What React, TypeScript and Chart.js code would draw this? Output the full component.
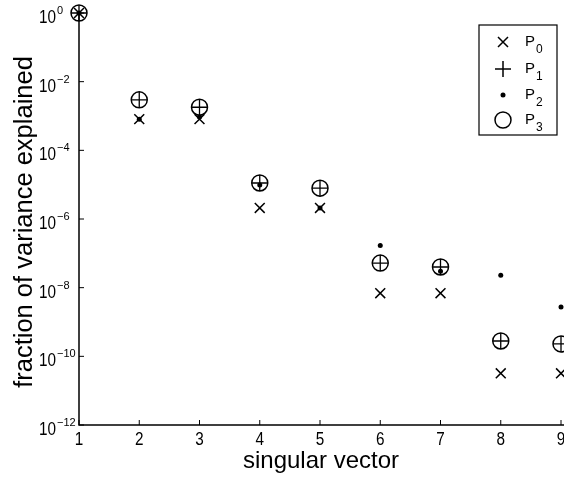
import React, { useEffect, useRef } from "react";
import { Chart, registerables } from "chart.js";

Chart.register(...registerables);

// singular vector index
const vectors = [1, 2, 3, 4, 5, 6, 7, 8, 9];
// fraction of variance explained for each P
const P0 = [1, 8.1e-4, 8.1e-4, 2.1e-6, 2.1e-6, 6.9e-9, 6.9e-9, 3.2e-11, 3.2e-11];
const P1 = [1, 2.95e-3, 1.8e-3, 1.12e-5, 7.9e-6, 5.2e-8, 4.0e-8, 2.8e-10, 2.3e-10];
const P2 = [1, 8.1e-4, 9.3e-4, 9.8e-6, 2.1e-6, 1.7e-7, 3.0e-8, 2.3e-8, 2.75e-9];
const P3 = [1, 2.95e-3, 1.8e-3, 1.12e-5, 7.9e-6, 5.2e-8, 4.0e-8, 2.8e-10, 2.3e-10];

const yTickExponents = [0, -2, -4, -6, -8, -10, -12];
const xTickValues = [1, 2, 3, 4, 5, 6, 7, 8, 9];
const legendSubscripts = ["0", "1", "2", "3"];
const xTitle = "singular vector";
const yTitle = "fraction of variance explained";

const FONT = '"Liberation Sans", Arial, Helvetica, sans-serif';
const SQUEEZE = 0.85;

function supText(e: number): string {
  return e < 0 ? "\u2212" + String(-e) : String(e);
}

function narrowText(ctx: CanvasRenderingContext2D, text: string, x: number, y: number, align: "left" | "center") {
  ctx.save();
  ctx.translate(x, y);
  ctx.scale(SQUEEZE, 1);
  ctx.textAlign = align;
  ctx.fillText(text, 0, 0);
  ctx.restore();
}

const decorPlugin = {
  id: "decor",
  afterDraw(chart: any) {
    const ctx: CanvasRenderingContext2D = chart.ctx;
    const xs = chart.scales.x;
    const ys = chart.scales.y;
    const area = chart.chartArea;
    ctx.save();
    ctx.strokeStyle = "#000";
    ctx.fillStyle = "#000";
    ctx.lineWidth = 1.5;
    // axis lines
    ctx.beginPath();
    ctx.moveTo(area.left, area.top);
    ctx.lineTo(area.left, area.bottom);
    ctx.lineTo(chart.width, area.bottom);
    ctx.stroke();

    // y ticks
    ctx.lineWidth = 1;
    ctx.textBaseline = "alphabetic";
    yTickExponents.forEach((e) => {
      const py = ys.getPixelForValue(Math.pow(10, e));
      ctx.beginPath();
      ctx.moveTo(area.left, py);
      ctx.lineTo(area.left + 5, py);
      ctx.stroke();
      ctx.font = `18px ${FONT}`;
      narrowText(ctx, "10", 39, py + 10, "left");
      const w = ctx.measureText("10").width * SQUEEZE;
      ctx.font = `11px ${FONT}`;
      ctx.textAlign = "left";
      ctx.fillText(supText(e), 39 + w + 1, py + 1);
    });

    // x ticks
    xTickValues.forEach((v) => {
      const px = xs.getPixelForValue(v);
      ctx.beginPath();
      ctx.moveTo(px, area.bottom);
      ctx.lineTo(px, area.bottom - 5);
      ctx.stroke();
      ctx.font = `18px ${FONT}`;
      narrowText(ctx, String(v), px, area.bottom + 20, "center");
    });

    // titles
    ctx.font = `24px ${FONT}`;
    ctx.textAlign = "center";
    ctx.textBaseline = "alphabetic";
    ctx.fillText(xTitle, 321, 468);
    ctx.save();
    ctx.translate(32, 222);
    ctx.rotate(-Math.PI / 2);
    ctx.font = `25.5px ${FONT}`;
    ctx.fillText(yTitle, 0, 0);
    ctx.restore();

    // legend
    const bx = 479, by = 25, bw = 78, bh = 110;
    ctx.fillStyle = "#fff";
    ctx.fillRect(bx, by, bw, bh);
    ctx.lineWidth = 1.2;
    ctx.strokeStyle = "#000";
    ctx.strokeRect(bx, by, bw, bh);
    ctx.fillStyle = "#000";
    const rows = [42, 69, 95, 120];
    const mx = 503;
    ctx.lineWidth = 1.5;
    // x marker
    let r = 5;
    ctx.beginPath();
    ctx.moveTo(mx - r, rows[0] - r);
    ctx.lineTo(mx + r, rows[0] + r);
    ctx.moveTo(mx + r, rows[0] - r);
    ctx.lineTo(mx - r, rows[0] + r);
    ctx.stroke();
    // plus marker
    r = 8;
    ctx.beginPath();
    ctx.moveTo(mx - r, rows[1]);
    ctx.lineTo(mx + r, rows[1]);
    ctx.moveTo(mx, rows[1] - r);
    ctx.lineTo(mx, rows[1] + r);
    ctx.stroke();
    // dot
    ctx.beginPath();
    ctx.arc(mx, rows[2], 2.5, 0, Math.PI * 2);
    ctx.fill();
    // circle
    ctx.beginPath();
    ctx.arc(mx, rows[3], 8, 0, Math.PI * 2);
    ctx.stroke();

    legendSubscripts.forEach((s, i) => {
      const cy = rows[i] - 1;
      ctx.textAlign = "left";
      ctx.textBaseline = "alphabetic";
      ctx.font = `15px ${FONT}`;
      ctx.fillText("P", 525, cy + 5);
      ctx.font = `12px ${FONT}`;
      ctx.fillText(s, 536, cy + 12);
    });
    ctx.restore();
  },
};

export default function App() {
  const ref = useRef<HTMLCanvasElement | null>(null);
  useEffect(() => {
    if (!ref.current) return;
    const toPts = (arr: number[]) => vectors.map((v, i) => ({ x: v, y: arr[i] }));
    const chart = new Chart(ref.current, {
      type: "scatter",
      data: {
        datasets: [
          {
            label: "P0",
            data: toPts(P0),
            pointStyle: "crossRot",
            pointRadius: 7,
            pointBorderWidth: 1.5,
            pointBorderColor: "#000",
            pointBackgroundColor: "#000",
            clip: false,
          } as any,
          {
            label: "P1",
            data: toPts(P1),
            pointStyle: "cross",
            pointRadius: 8,
            pointBorderWidth: 1.3,
            pointBorderColor: "#000",
            pointBackgroundColor: "#000",
            clip: false,
          },
          {
            label: "P2",
            data: toPts(P2),
            pointStyle: "circle",
            pointRadius: 2.5,
            pointBorderWidth: 0,
            pointBorderColor: "#000",
            pointBackgroundColor: "#000",
            clip: false,
          },
          {
            label: "P3",
            data: toPts(P3),
            pointStyle: "circle",
            pointRadius: 8,
            pointBorderWidth: 1.5,
            pointBorderColor: "#000",
            pointBackgroundColor: "rgba(0,0,0,0)",
            clip: false,
          },
        ],
      },
      options: {
        responsive: false,
        animation: false,
        events: [],
        layout: { autoPadding: false, padding: { left: 79, top: 13, right: 3, bottom: 52 } },
        plugins: { legend: { display: false }, tooltip: { enabled: false } },
        scales: {
          x: { type: "linear", min: 1, max: 9, display: false },
          y: { type: "logarithmic", min: 1e-12, max: 1, display: false },
        },
      },
      plugins: [decorPlugin],
    });
    return () => chart.destroy();
  }, []);
  return (
    <div style={{ position: "fixed", left: 0, top: 0, width: 564, height: 477, background: "#fff" }}>
      <canvas ref={ref} width={564} height={477} style={{ display: "block" }} />
    </div>
  );
}
